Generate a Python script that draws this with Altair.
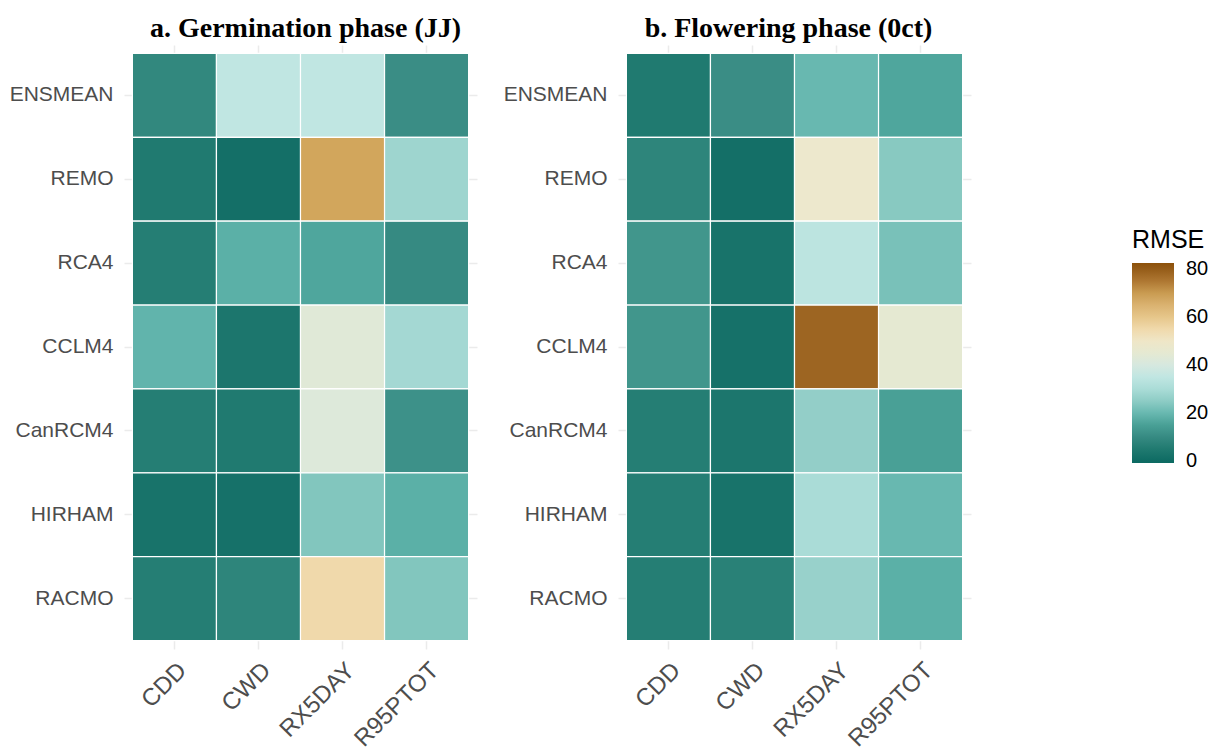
import altair as alt
import pandas as pd

models = ["ENSMEAN", "REMO", "RCA4", "CCLM4", "CanRCM4", "HIRHAM", "RACMO"]
indices = ["CDD", "CWD", "RX5DAY", "R95PTOT"]

# RMSE values, rows = models, columns = indices
rmse_germination = [
    [9, 35, 35, 11],
    [5, 2, 68, 28],
    [6, 18, 16, 10],
    [19, 4, 43, 29],
    [6, 5, 42, 12],
    [3, 2.5, 23, 18],
    [6, 8, 55, 23],
]
rmse_flowering = [
    [5, 11, 20, 16],
    [8, 2, 48, 24],
    [13, 3, 34, 22],
    [13, 2.5, 78, 45],
    [6, 4, 26, 15],
    [6, 3, 30, 20],
    [6, 7, 27, 18],
]

title_a = "a. Germination phase (JJ)"
title_b = "b. Flowering phase (0ct)"

# colour ramp (BrBG-like, teal -> cream -> brown)
stop_values = [-0.8, 2, 5, 8, 11, 14, 17, 20, 23, 27, 30, 35, 40, 43, 46, 49,
               53, 56, 60, 65, 68, 72, 76, 79, 82.5]
stop_colors = ["#0c6a62", "#146f67", "#207a70", "#2e857b", "#3a8d85", "#449a90",
               "#54aca3", "#68b8b0", "#82c6be", "#98d1cb", "#aadcd7", "#c0e6e2",
               "#d6e8df", "#e0e9d7", "#e8e9d0", "#efe8cc", "#f0dfb8", "#f0d6a4",
               "#e6c68a", "#dab270", "#d2a65c", "#c08f45", "#a86f2b", "#98601e",
               "#8c510a"]
legend_values = [0, 20, 40, 60, 80]


def to_frame(matrix):
    rows = []
    for m, vals in zip(models, matrix):
        for i, v in zip(indices, vals):
            rows.append({"model": m, "index": i, "rmse": v})
    return pd.DataFrame(rows)


color_scale = alt.Scale(domain=stop_values, range=stop_colors, interpolate="rgb")


def panel(df, title, dx):
    return (
        alt.Chart(df, title=alt.TitleParams(
            text=title, font="Liberation Serif", fontSize=28, fontWeight="bold",
            color="black", anchor="middle", offset=2, dx=dx))
        .mark_rect(stroke="white", strokeWidth=1.2)
        .encode(
            x=alt.X("index:N", sort=indices, title=None,
                    scale=alt.Scale(paddingInner=0, paddingOuter=0.1),
                    axis=alt.Axis(labelAngle=-45, labelAlign="right", labelBaseline="top",
                                  labelFontSize=24, labelPadding=9, zindex=0)),
            y=alt.Y("model:N", sort=models, title=None,
                    scale=alt.Scale(paddingInner=0, paddingOuter=0.1),
                    axis=alt.Axis(labelFontSize=21, labelPadding=11, zindex=0)),
            color=alt.Color("rmse:Q", scale=color_scale, legend=alt.Legend(
                title="RMSE", orient="none", legendX=1008, legendY=183,
                direction="vertical",
                titleFont="Liberation Sans", titleFontSize=25, titleFontWeight="normal",
                titleColor="black", titlePadding=10,
                labelFont="Liberation Sans", labelFontSize=20, labelColor="black",
                labelOffset=12, gradientLength=200, gradientThickness=42,
                gradientStrokeWidth=0, values=legend_values)),
        )
        .properties(width=353, height=604)
    )


chart = (
    alt.hconcat(panel(to_frame(rmse_germination), title_a, 5),
                panel(to_frame(rmse_flowering), title_b, -6), spacing=26)
    .properties(padding={"left": 9, "top": 15, "right": 0, "bottom": -3})
    .configure_view(stroke=None)
    .configure_axis(domain=False, ticks=False, grid=True, gridColor="#ebebeb",
                    gridWidth=1.5, labelFont="Liberation Sans", labelColor="#4d4d4d",
                    zindex=0)
)

chart.save("out.html", embed_options={"renderer": "svg", "actions": False})
